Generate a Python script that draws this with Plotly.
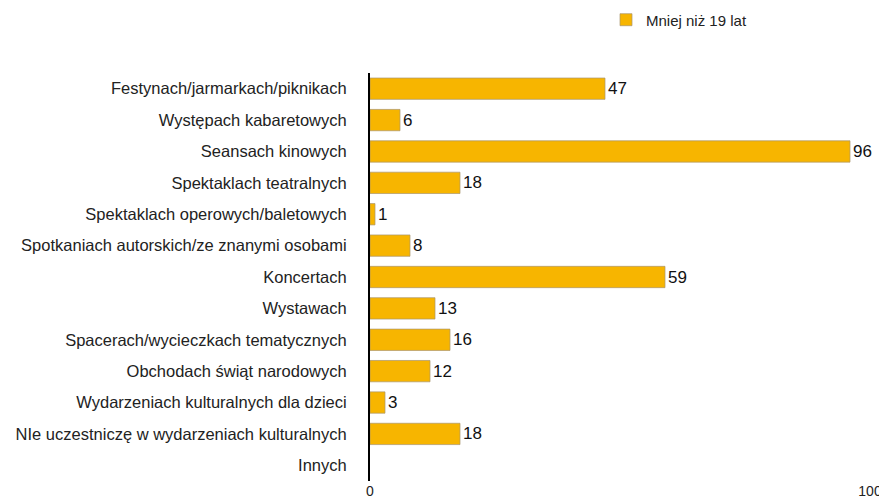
import plotly.graph_objects as go

categories = [
    "Festynach/jarmarkach/piknikach",
    "Występach kabaretowych",
    "Seansach kinowych",
    "Spektaklach teatralnych",
    "Spektaklach operowych/baletowych",
    "Spotkaniach autorskich/ze znanymi osobami",
    "Koncertach",
    "Wystawach",
    "Spacerach/wycieczkach tematycznych",
    "Obchodach świąt narodowych",
    "Wydarzeniach kulturalnych dla dzieci",
    "NIe uczestniczę w wydarzeniach kulturalnych",
    "Innych",
]
values = [47, 6, 96, 18, 1, 8, 59, 13, 16, 12, 3, 18, None]
series_name = "Mniej niż 19 lat"
x_ticks = [0, 100]

FONT = "Liberation Sans, Arial, sans-serif"

fig = go.Figure()
fig.add_trace(go.Bar(
    y=categories,
    x=values,
    orientation="h",
    name=series_name,
    marker=dict(color="#F7B500", line=dict(color="rgba(170,150,110,0.7)", width=1)),
    width=0.68,
    text=[str(v) if v is not None else "" for v in values],
    textposition="outside",
    textfont=dict(size=17, color="#111111", family=FONT),
    cliponaxis=False,
))

# page body has an 8px margin, so the figure is a bit smaller and shifted
fig.update_layout(
    width=879,
    height=496,
    margin=dict(l=362, r=17, t=65, b=23, autoexpand=False),
    plot_bgcolor="white",
    paper_bgcolor="white",
    font=dict(family=FONT, size=15, color="#222222"),
    showlegend=True,
    legend=dict(
        x=0.472, y=1.13, xref="paper", yref="paper",
        xanchor="left", yanchor="middle",
        font=dict(size=15, color="#222222"),
        bgcolor="rgba(0,0,0,0)",
    ),
    bargap=0.32,
)
fig.update_xaxes(
    range=[0, 100],
    tickvals=x_ticks,
    showgrid=False,
    zeroline=False,
    showline=False,
    tickfont=dict(size=14, color="#222222"),
)
fig.update_yaxes(
    autorange="reversed",
    showline=True,
    linecolor="black",
    linewidth=2,
    showgrid=False,
    ticks="",
    ticklabelstandoff=18,
    tickfont=dict(size=16.5, color="#222222"),
)

fig.write_html("out.html")
